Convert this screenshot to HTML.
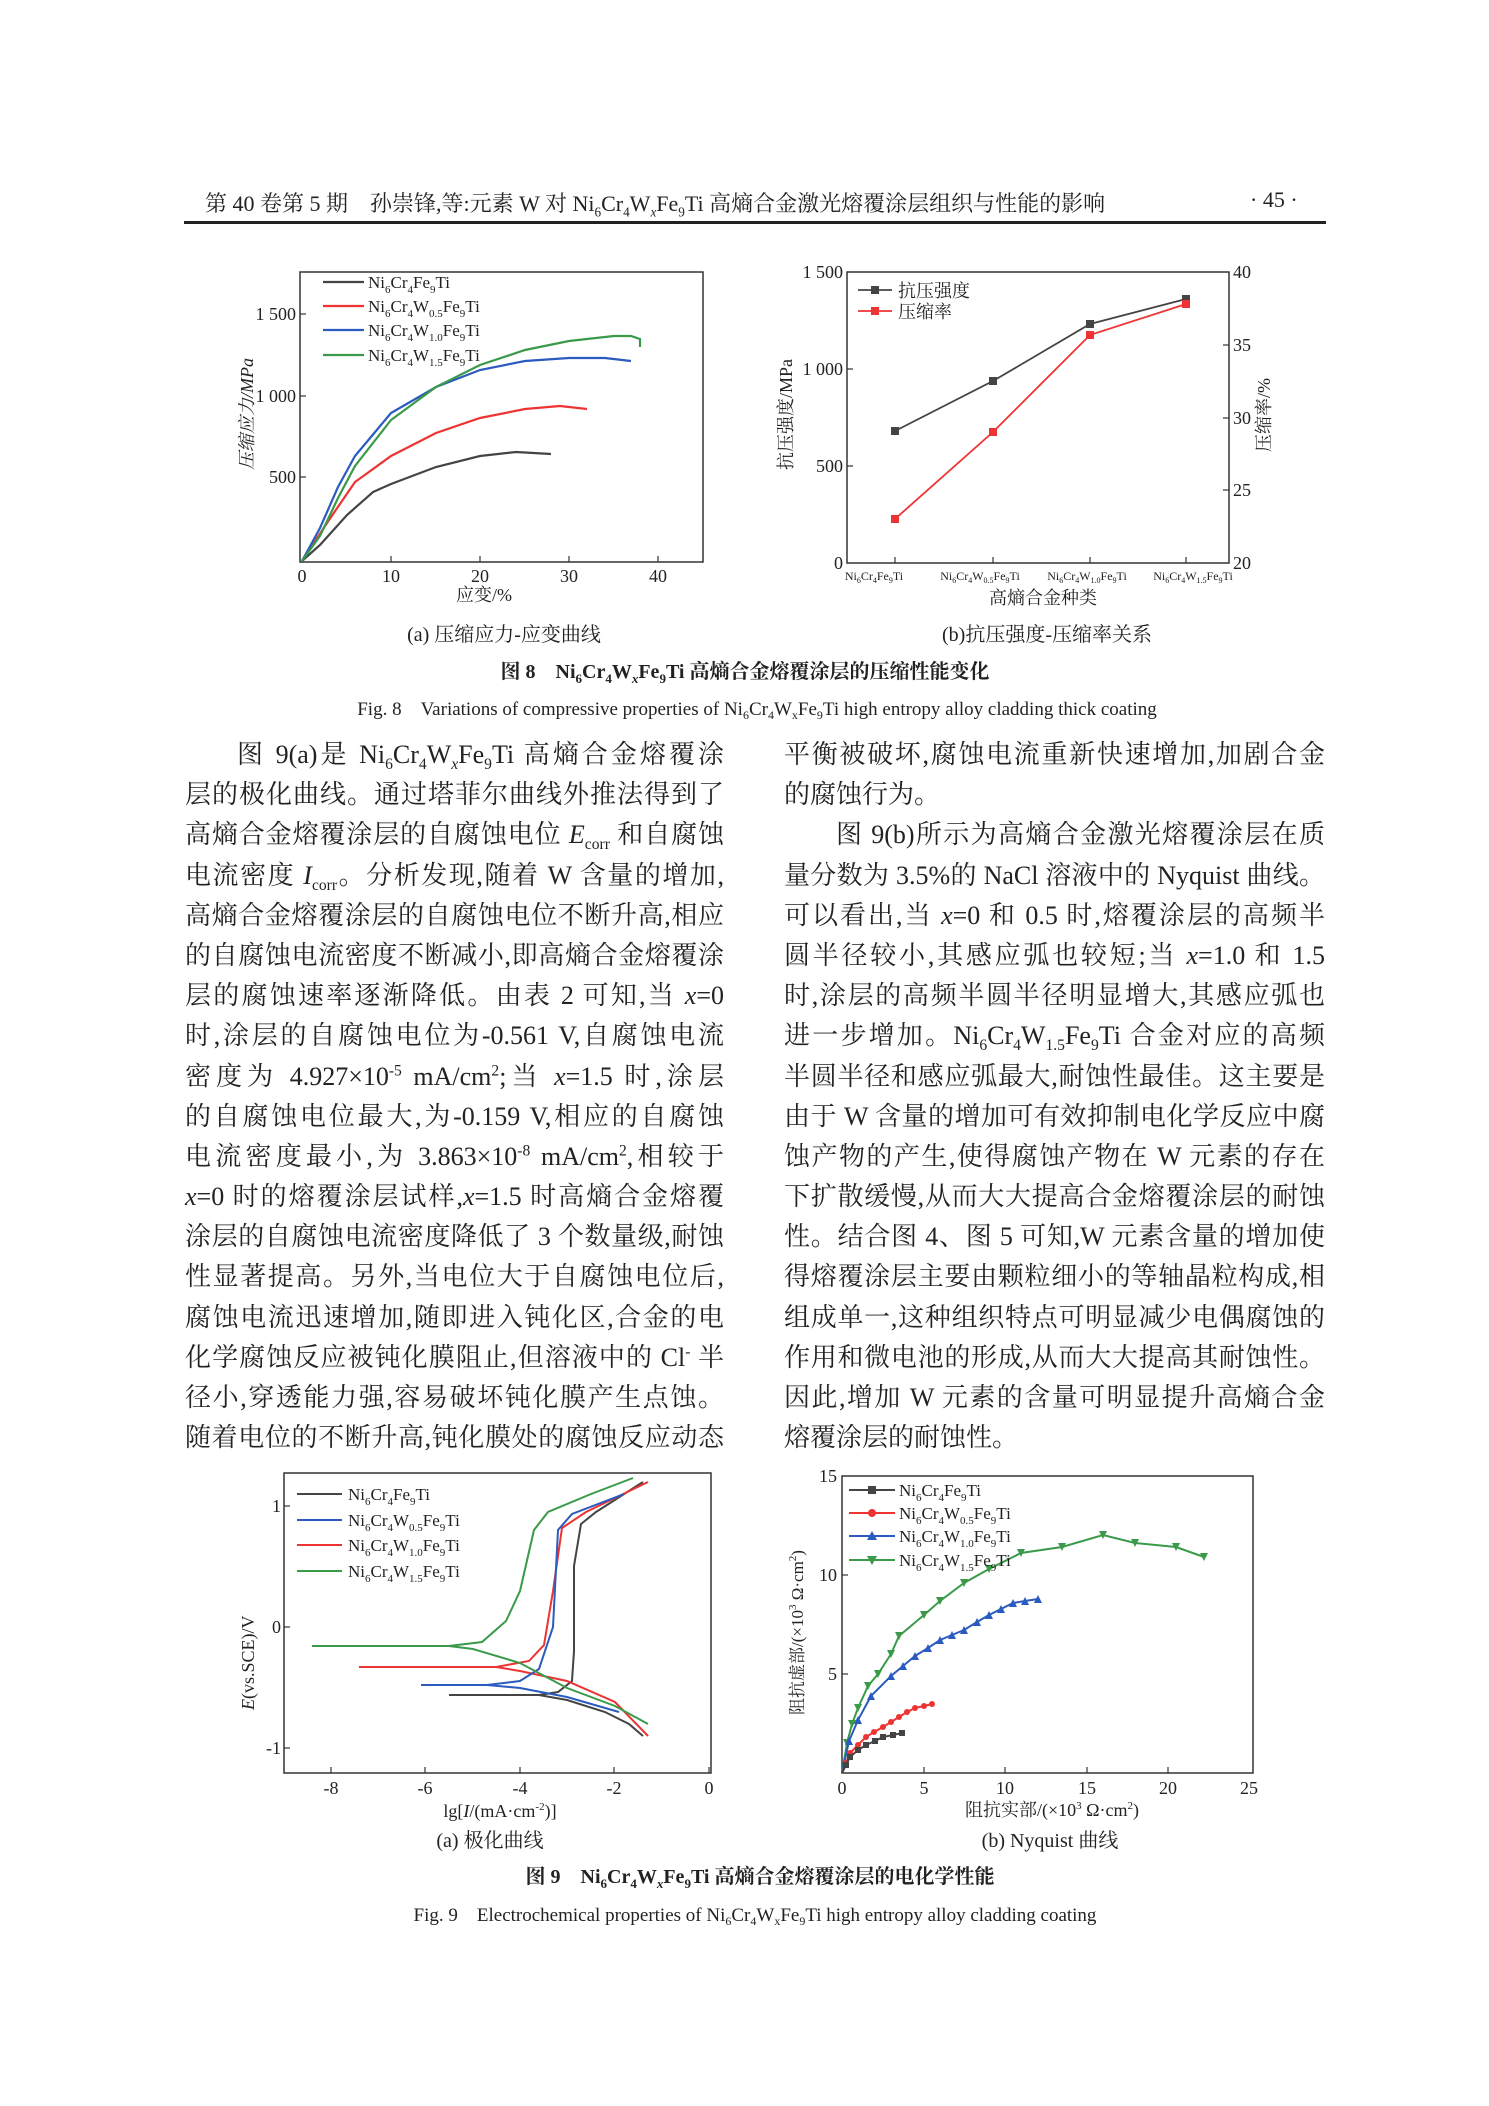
<!DOCTYPE html>
<html><head><meta charset="utf-8"><style>
body{margin:0;background:#fff;}
#pg{position:relative;width:1489px;height:2106px;overflow:hidden;background:#fff;font-family:"Liberation Serif","Noto Serif CJK SC",serif;color:#222;}
.col{position:absolute;top:735px;font-size:26px;line-height:40.2px;}
.col div{text-align:justify;text-align-last:justify;white-space:nowrap;height:40.2px}
.col div.l{text-align-last:left}
.col div.i{padding-left:52px}
sub,sup{font-size:60%;line-height:0}
.t{position:absolute;white-space:nowrap;font-size:21px}
</style></head><body><div id="pg">
<div class="t" style="left:205px;top:187px;font-size:22px">第 40 卷第 5 期　孙崇锋,等:元素 W 对 Ni<sub>6</sub>Cr<sub>4</sub>W<sub><i>x</i></sub>Fe<sub>9</sub>Ti 高熵合金激光熔覆涂层组织与性能的影响</div>
<div class="t" style="left:1250px;top:187px;font-size:22px">· 45 ·</div>
<div style="position:absolute;left:184px;top:221px;width:1142px;height:3px;background:#222"></div>

<div class="col" style="left:185px;width:539px">
<div class="i">图 9(a)是 Ni<sub>6</sub>Cr<sub>4</sub>W<sub><i>x</i></sub>Fe<sub>9</sub>Ti 高熵合金熔覆涂</div>
<div>层的极化曲线。通过塔菲尔曲线外推法得到了</div>
<div>高熵合金熔覆涂层的自腐蚀电位 <i>E</i><sub>corr</sub> 和自腐蚀</div>
<div>电流密度 <i>I</i><sub>corr</sub>。分析发现,随着 W 含量的增加,</div>
<div>高熵合金熔覆涂层的自腐蚀电位不断升高,相应</div>
<div>的自腐蚀电流密度不断减小,即高熵合金熔覆涂</div>
<div>层的腐蚀速率逐渐降低。由表 2 可知,当 <i>x</i>=0</div>
<div>时,涂层的自腐蚀电位为-0.561 V,自腐蚀电流</div>
<div>密度为 4.927×10<sup>-5</sup> mA/cm<sup>2</sup>;当 <i>x</i>=1.5 时,涂层</div>
<div>的自腐蚀电位最大,为-0.159 V,相应的自腐蚀</div>
<div>电流密度最小,为 3.863×10<sup>-8</sup> mA/cm<sup>2</sup>,相较于</div>
<div><i>x</i>=0 时的熔覆涂层试样,<i>x</i>=1.5 时高熵合金熔覆</div>
<div>涂层的自腐蚀电流密度降低了 3 个数量级,耐蚀</div>
<div>性显著提高。另外,当电位大于自腐蚀电位后,</div>
<div>腐蚀电流迅速增加,随即进入钝化区,合金的电</div>
<div>化学腐蚀反应被钝化膜阻止,但溶液中的 Cl<sup>-</sup> 半</div>
<div>径小,穿透能力强,容易破坏钝化膜产生点蚀。</div>
<div>随着电位的不断升高,钝化膜处的腐蚀反应动态</div>
</div>
<div class="col" style="left:784px;width:541px">
<div>平衡被破坏,腐蚀电流重新快速增加,加剧合金</div>
<div class="l">的腐蚀行为。</div>
<div class="i">图 9(b)所示为高熵合金激光熔覆涂层在质</div>
<div>量分数为 3.5%的 NaCl 溶液中的 Nyquist 曲线。</div>
<div>可以看出,当 <i>x</i>=0 和 0.5 时,熔覆涂层的高频半</div>
<div>圆半径较小,其感应弧也较短;当 <i>x</i>=1.0 和 1.5</div>
<div>时,涂层的高频半圆半径明显增大,其感应弧也</div>
<div>进一步增加。Ni<sub>6</sub>Cr<sub>4</sub>W<sub>1.5</sub>Fe<sub>9</sub>Ti 合金对应的高频</div>
<div>半圆半径和感应弧最大,耐蚀性最佳。这主要是</div>
<div>由于 W 含量的增加可有效抑制电化学反应中腐</div>
<div>蚀产物的产生,使得腐蚀产物在 W 元素的存在</div>
<div>下扩散缓慢,从而大大提高合金熔覆涂层的耐蚀</div>
<div>性。结合图 4、图 5 可知,W 元素含量的增加使</div>
<div>得熔覆涂层主要由颗粒细小的等轴晶粒构成,相</div>
<div>组成单一,这种组织特点可明显减少电偶腐蚀的</div>
<div>作用和微电池的形成,从而大大提高其耐蚀性。</div>
<div>因此,增加 W 元素的含量可明显提升高熵合金</div>
<div class="l">熔覆涂层的耐蚀性。</div>
</div>

<svg width="1489" height="2106" style="position:absolute;left:0;top:0" font-family="Liberation Serif, Noto Serif CJK SC, serif" fill="none">
<defs>
<marker id="ms" viewBox="0 0 6 6" refX="3" refY="3" markerWidth="6" markerHeight="6" markerUnits="userSpaceOnUse"><rect width="6" height="6" fill="#444"/></marker>
<marker id="mc" viewBox="0 0 6 6" refX="3" refY="3" markerWidth="6" markerHeight="6" markerUnits="userSpaceOnUse"><circle cx="3" cy="3" r="3" fill="#e33"/></marker>
<marker id="mt" viewBox="0 0 8 8" refX="4" refY="4" markerWidth="8" markerHeight="8" markerUnits="userSpaceOnUse"><path d="M4 0L8 8H0Z" fill="#2a5bbf"/></marker>
<marker id="mv" viewBox="0 0 8 8" refX="4" refY="4" markerWidth="8" markerHeight="8" markerUnits="userSpaceOnUse"><path d="M0 0H8L4 8Z" fill="#3a9a4a"/></marker>
<marker id="sq1" viewBox="0 0 8 8" refX="4" refY="4" markerWidth="8" markerHeight="8" markerUnits="userSpaceOnUse"><rect width="8" height="8" fill="#444"/></marker>
<marker id="sq2" viewBox="0 0 8 8" refX="4" refY="4" markerWidth="8" markerHeight="8" markerUnits="userSpaceOnUse"><rect width="8" height="8" fill="#e33"/></marker>
</defs>

<!-- Fig 8a -->
<rect x="300" y="272" width="403" height="290" stroke="#333" stroke-width="1.5"/>
<g stroke="#333" stroke-width="1.2">
<line x1="391" y1="562" x2="391" y2="556"/><line x1="480" y1="562" x2="480" y2="556"/><line x1="569" y1="562" x2="569" y2="556"/><line x1="658" y1="562" x2="658" y2="556"/>
<line x1="300" y1="477" x2="306" y2="477"/><line x1="300" y1="396" x2="306" y2="396"/><line x1="300" y1="314" x2="306" y2="314"/>
</g>
<g fill="#222" font-size="18" text-anchor="middle">
<text x="302" y="582">0</text><text x="391" y="582">10</text><text x="480" y="582">20</text><text x="569" y="582">30</text><text x="658" y="582">40</text>
<text x="484" y="601">应变/%</text>
</g>
<g fill="#222" font-size="18" text-anchor="end">
<text x="296" y="483">500</text><text x="296" y="402">1 000</text><text x="296" y="320">1 500</text>
</g>
<text x="0" y="0" transform="translate(253,470) rotate(-90)" fill="#222" font-size="18" font-style="italic">压缩应力/MPa</text>
<g stroke-width="2.2">
<polyline stroke="#444" points="302,561 320,545 347,515 373,492 391,484 436,467 480,456 516,452 551,454"/>
<polyline stroke="#e33" points="302,561 329,520 355,482 391,456 436,433 480,418 525,409 560,406 587,409"/>
<polyline stroke="#2a5bbf" points="302,561 320,528 338,487 355,456 391,413 436,387 480,370 525,361 569,358 605,358 631,361"/>
<polyline stroke="#3a9a4a" points="302,561 320,536 338,498 355,466 391,420 436,387 480,365 525,350 569,341 614,336 631,336 640,339 640,347"/>
<line x1="323" y1="282" x2="364" y2="282" stroke="#444"/>
<line x1="323" y1="306" x2="364" y2="306" stroke="#e33"/>
<line x1="323" y1="330" x2="364" y2="330" stroke="#2a5bbf"/>
<line x1="323" y1="355" x2="364" y2="355" stroke="#3a9a4a"/>
</g>
<g fill="#222" font-size="17">
<text x="368" y="288">Ni<tspan font-size="11" dy="5">6</tspan><tspan dy="-5">Cr</tspan><tspan font-size="11" dy="5">4</tspan><tspan dy="-5">Fe</tspan><tspan font-size="11" dy="5">9</tspan><tspan dy="-5">Ti</tspan></text>
<text x="368" y="312">Ni<tspan font-size="11" dy="5">6</tspan><tspan dy="-5">Cr</tspan><tspan font-size="11" dy="5">4</tspan><tspan dy="-5">W</tspan><tspan font-size="11" dy="5">0.5</tspan><tspan dy="-5">Fe</tspan><tspan font-size="11" dy="5">9</tspan><tspan dy="-5">Ti</tspan></text>
<text x="368" y="336">Ni<tspan font-size="11" dy="5">6</tspan><tspan dy="-5">Cr</tspan><tspan font-size="11" dy="5">4</tspan><tspan dy="-5">W</tspan><tspan font-size="11" dy="5">1.0</tspan><tspan dy="-5">Fe</tspan><tspan font-size="11" dy="5">9</tspan><tspan dy="-5">Ti</tspan></text>
<text x="368" y="361">Ni<tspan font-size="11" dy="5">6</tspan><tspan dy="-5">Cr</tspan><tspan font-size="11" dy="5">4</tspan><tspan dy="-5">W</tspan><tspan font-size="11" dy="5">1.5</tspan><tspan dy="-5">Fe</tspan><tspan font-size="11" dy="5">9</tspan><tspan dy="-5">Ti</tspan></text>
</g>

<!-- Fig 8b -->
<rect x="847" y="272" width="382" height="291" stroke="#333" stroke-width="1.5"/>
<g stroke="#333" stroke-width="1.2">
<line x1="895" y1="563" x2="895" y2="557"/><line x1="993" y1="563" x2="993" y2="557"/><line x1="1090" y1="563" x2="1090" y2="557"/><line x1="1186" y1="563" x2="1186" y2="557"/>
<line x1="847" y1="466" x2="853" y2="466"/><line x1="847" y1="369" x2="853" y2="369"/>
<line x1="1229" y1="490" x2="1223" y2="490"/><line x1="1229" y1="418" x2="1223" y2="418"/><line x1="1229" y1="345" x2="1223" y2="345"/>
</g>
<g fill="#222" font-size="18" text-anchor="end">
<text x="843" y="278">1 500</text><text x="843" y="375">1 000</text><text x="843" y="472">500</text><text x="843" y="569">0</text>
</g>
<g fill="#222" font-size="18">
<text x="1233" y="278">40</text><text x="1233" y="351">35</text><text x="1233" y="424">30</text><text x="1233" y="496">25</text><text x="1233" y="569">20</text>
</g>
<g fill="#222" font-size="12" text-anchor="middle">
<text x="874" y="580">Ni<tspan font-size="8" dy="3">6</tspan><tspan dy="-3">Cr</tspan><tspan font-size="8" dy="3">4</tspan><tspan dy="-3">Fe</tspan><tspan font-size="8" dy="3">9</tspan><tspan dy="-3">Ti</tspan></text>
<text x="980" y="580">Ni<tspan font-size="8" dy="3">6</tspan><tspan dy="-3">Cr</tspan><tspan font-size="8" dy="3">4</tspan><tspan dy="-3">W</tspan><tspan font-size="8" dy="3">0.5</tspan><tspan dy="-3">Fe</tspan><tspan font-size="8" dy="3">9</tspan><tspan dy="-3">Ti</tspan></text>
<text x="1087" y="580">Ni<tspan font-size="8" dy="3">6</tspan><tspan dy="-3">Cr</tspan><tspan font-size="8" dy="3">4</tspan><tspan dy="-3">W</tspan><tspan font-size="8" dy="3">1.0</tspan><tspan dy="-3">Fe</tspan><tspan font-size="8" dy="3">9</tspan><tspan dy="-3">Ti</tspan></text>
<text x="1193" y="580">Ni<tspan font-size="8" dy="3">6</tspan><tspan dy="-3">Cr</tspan><tspan font-size="8" dy="3">4</tspan><tspan dy="-3">W</tspan><tspan font-size="8" dy="3">1.5</tspan><tspan dy="-3">Fe</tspan><tspan font-size="8" dy="3">9</tspan><tspan dy="-3">Ti</tspan></text>
</g>
<text x="1043" y="604" fill="#222" font-size="18" text-anchor="middle">高熵合金种类</text>
<text transform="translate(792,470) rotate(-90)" fill="#222" font-size="18">抗压强度/MPa</text>
<text transform="translate(1270,452) rotate(-90)" fill="#222" font-size="18">压缩率/%</text>
<polyline stroke="#444" stroke-width="1.8" points="895,431 993,381 1090,324 1186,299" marker-start="url(#sq1)" marker-mid="url(#sq1)" marker-end="url(#sq1)"/>
<polyline stroke="#e33" stroke-width="1.8" points="895,519 993,432 1090,335 1186,304" marker-start="url(#sq2)" marker-mid="url(#sq2)" marker-end="url(#sq2)"/>
<line x1="858" y1="290" x2="892" y2="290" stroke="#444" stroke-width="1.8"/><rect x="871" y="286" width="8" height="8" fill="#444"/>
<line x1="858" y1="311" x2="892" y2="311" stroke="#e33" stroke-width="1.8"/><rect x="871" y="307" width="8" height="8" fill="#e33"/>
<text x="898" y="297" fill="#222" font-size="18">抗压强度</text>
<text x="898" y="318" fill="#222" font-size="18">压缩率</text>

<g fill="#222" font-size="20" text-anchor="middle">
<text x="504" y="641">(a) 压缩应力-应变曲线</text>
<text x="1047" y="641">(b)抗压强度-压缩率关系</text>
<text x="745" y="678" font-weight="bold">图 8　Ni<tspan font-size="13" dy="5">6</tspan><tspan dy="-5">Cr</tspan><tspan font-size="13" dy="5">4</tspan><tspan dy="-5">W</tspan><tspan font-size="13" dy="5" font-style="italic">x</tspan><tspan dy="-5">Fe</tspan><tspan font-size="13" dy="5">9</tspan><tspan dy="-5">Ti 高熵合金熔覆涂层的压缩性能变化</tspan></text>
<text x="757" y="715" font-size="19">Fig. 8　Variations of compressive properties of Ni<tspan font-size="12" dy="4">6</tspan><tspan dy="-4">Cr</tspan><tspan font-size="12" dy="4">4</tspan><tspan dy="-4">W</tspan><tspan font-size="12" dy="4">x</tspan><tspan dy="-4">Fe</tspan><tspan font-size="12" dy="4">9</tspan><tspan dy="-4">Ti high entropy alloy cladding thick coating</tspan></text>
</g>

<!-- Fig 9a -->
<rect x="284" y="1473" width="427" height="300" stroke="#333" stroke-width="1.5"/>
<g stroke="#333" stroke-width="1.2">
<line x1="331" y1="1773" x2="331" y2="1767"/><line x1="425" y1="1773" x2="425" y2="1767"/><line x1="520" y1="1773" x2="520" y2="1767"/><line x1="614" y1="1773" x2="614" y2="1767"/><line x1="709" y1="1773" x2="709" y2="1767"/>
<line x1="284" y1="1506" x2="290" y2="1506"/><line x1="284" y1="1627" x2="290" y2="1627"/><line x1="284" y1="1748" x2="290" y2="1748"/>
</g>
<g fill="#222" font-size="18" text-anchor="middle">
<text x="331" y="1794">-8</text><text x="425" y="1794">-6</text><text x="520" y="1794">-4</text><text x="614" y="1794">-2</text><text x="709" y="1794">0</text>
<text x="500" y="1817">lg[<tspan font-style="italic">I</tspan>/(mA·cm<tspan font-size="11" dy="-7">-2</tspan><tspan dy="7">)]</tspan></text>
</g>
<g fill="#222" font-size="18" text-anchor="end"><text x="281" y="1512">1</text><text x="281" y="1633">0</text><text x="281" y="1754">-1</text></g>
<text transform="translate(254,1710) rotate(-90)" fill="#222" font-size="18"><tspan font-style="italic">E</tspan>(vs.SCE)/V</text>
<g stroke-width="2">
<polyline stroke="#444" points="449,1695 539,1695 558,1692 572,1681 574,1651 574,1566 581,1524 596,1512 643,1482"/>
<polyline stroke="#444" points="539,1695 567,1700 605,1712 629,1724 643,1736"/>
<polyline stroke="#e33" points="359,1667 496,1667 529,1661 544,1645 553,1591 562,1528 586,1512 648,1482"/>
<polyline stroke="#e33" points="496,1667 520,1671 567,1681 615,1702 648,1736"/>
<polyline stroke="#2a5bbf" points="421,1685 487,1685 520,1681 539,1669 553,1627 558,1530 572,1514 624,1494"/>
<polyline stroke="#2a5bbf" points="487,1685 520,1688 567,1697 619,1712"/>
<polyline stroke="#3a9a4a" points="312,1646 449,1646 482,1642 506,1621 520,1591 534,1530 548,1512 591,1494 633,1478"/>
<polyline stroke="#3a9a4a" points="449,1646 473,1649 520,1663 567,1688 615,1706 648,1724"/>
<line x1="297" y1="1494" x2="342" y2="1494" stroke="#444"/>
<line x1="297" y1="1520" x2="342" y2="1520" stroke="#2a5bbf"/>
<line x1="297" y1="1545" x2="342" y2="1545" stroke="#e33"/>
<line x1="297" y1="1571" x2="342" y2="1571" stroke="#3a9a4a"/>
</g>
<g fill="#222" font-size="17">
<text x="348" y="1500">Ni<tspan font-size="11" dy="5">6</tspan><tspan dy="-5">Cr</tspan><tspan font-size="11" dy="5">4</tspan><tspan dy="-5">Fe</tspan><tspan font-size="11" dy="5">9</tspan><tspan dy="-5">Ti</tspan></text>
<text x="348" y="1526">Ni<tspan font-size="11" dy="5">6</tspan><tspan dy="-5">Cr</tspan><tspan font-size="11" dy="5">4</tspan><tspan dy="-5">W</tspan><tspan font-size="11" dy="5">0.5</tspan><tspan dy="-5">Fe</tspan><tspan font-size="11" dy="5">9</tspan><tspan dy="-5">Ti</tspan></text>
<text x="348" y="1551">Ni<tspan font-size="11" dy="5">6</tspan><tspan dy="-5">Cr</tspan><tspan font-size="11" dy="5">4</tspan><tspan dy="-5">W</tspan><tspan font-size="11" dy="5">1.0</tspan><tspan dy="-5">Fe</tspan><tspan font-size="11" dy="5">9</tspan><tspan dy="-5">Ti</tspan></text>
<text x="348" y="1577">Ni<tspan font-size="11" dy="5">6</tspan><tspan dy="-5">Cr</tspan><tspan font-size="11" dy="5">4</tspan><tspan dy="-5">W</tspan><tspan font-size="11" dy="5">1.5</tspan><tspan dy="-5">Fe</tspan><tspan font-size="11" dy="5">9</tspan><tspan dy="-5">Ti</tspan></text>
</g>

<!-- Fig 9b -->
<rect x="842" y="1476" width="411" height="297" stroke="#333" stroke-width="1.5"/>
<g stroke="#333" stroke-width="1.2">
<line x1="924" y1="1773" x2="924" y2="1767"/><line x1="1005" y1="1773" x2="1005" y2="1767"/><line x1="1087" y1="1773" x2="1087" y2="1767"/><line x1="1168" y1="1773" x2="1168" y2="1767"/>
<line x1="842" y1="1674" x2="848" y2="1674"/><line x1="842" y1="1575" x2="848" y2="1575"/>
</g>
<g fill="#222" font-size="18" text-anchor="middle">
<text x="842" y="1794">0</text><text x="924" y="1794">5</text><text x="1005" y="1794">10</text><text x="1087" y="1794">15</text><text x="1168" y="1794">20</text><text x="1249" y="1794">25</text>
<text x="1052" y="1816">阻抗实部/(×10<tspan font-size="11" dy="-7">3</tspan><tspan dy="7"> Ω·cm</tspan><tspan font-size="11" dy="-7">2</tspan><tspan dy="7">)</tspan></text>
</g>
<g fill="#222" font-size="18" text-anchor="end"><text x="837" y="1680">5</text><text x="837" y="1581">10</text><text x="837" y="1482">15</text></g>
<text transform="translate(803,1715) rotate(-90)" fill="#222" font-size="17">阻抗虚部/(×10<tspan font-size="11" dy="-7">3</tspan><tspan dy="7"> Ω·cm</tspan><tspan font-size="11" dy="-7">2</tspan><tspan dy="7">)</tspan></text>
<g stroke-width="2">
<polyline stroke="#3a9a4a" marker-mid="url(#mv)" marker-end="url(#mv)" points="842,1773 847,1743 852,1724 858,1708 868,1686 878,1674 891,1654 899,1636 924,1615 940,1601 964,1583 989,1569 1021,1553 1062,1547 1103,1535 1135,1543 1176,1547 1204,1557"/>
<polyline stroke="#2a5bbf" marker-mid="url(#mt)" marker-end="url(#mt)" points="842,1773 849,1741 858,1720 871,1696 891,1676 903,1666 915,1656 928,1648 940,1640 952,1635 964,1630 977,1622 989,1615 1001,1609 1013,1603 1025,1601 1038,1599"/>
<polyline stroke="#e33" marker-mid="url(#mc)" marker-end="url(#mc)" points="842,1773 846,1763 850,1753 858,1745 866,1737 874,1732 883,1727 891,1722 899,1717 907,1712 915,1708 924,1706 932,1704"/>
<polyline stroke="#444" marker-mid="url(#ms)" marker-end="url(#ms)" points="842,1773 846,1765 850,1757 858,1750 866,1745 875,1741 883,1737 893,1735 902,1733"/>
<line x1="849" y1="1490" x2="895" y2="1490" stroke="#444"/><rect x="868" y="1486" width="8" height="8" fill="#444"/>
<line x1="849" y1="1513" x2="895" y2="1513" stroke="#e33"/><circle cx="872" cy="1513" r="4" fill="#e33"/>
<line x1="849" y1="1536" x2="895" y2="1536" stroke="#2a5bbf"/><path d="M872 1531L877 1540H867Z" fill="#2a5bbf"/>
<line x1="849" y1="1560" x2="895" y2="1560" stroke="#3a9a4a"/><path d="M867 1556H877L872 1565Z" fill="#3a9a4a"/>
</g>
<g fill="#222" font-size="17">
<text x="899" y="1496">Ni<tspan font-size="11" dy="5">6</tspan><tspan dy="-5">Cr</tspan><tspan font-size="11" dy="5">4</tspan><tspan dy="-5">Fe</tspan><tspan font-size="11" dy="5">9</tspan><tspan dy="-5">Ti</tspan></text>
<text x="899" y="1519">Ni<tspan font-size="11" dy="5">6</tspan><tspan dy="-5">Cr</tspan><tspan font-size="11" dy="5">4</tspan><tspan dy="-5">W</tspan><tspan font-size="11" dy="5">0.5</tspan><tspan dy="-5">Fe</tspan><tspan font-size="11" dy="5">9</tspan><tspan dy="-5">Ti</tspan></text>
<text x="899" y="1542">Ni<tspan font-size="11" dy="5">6</tspan><tspan dy="-5">Cr</tspan><tspan font-size="11" dy="5">4</tspan><tspan dy="-5">W</tspan><tspan font-size="11" dy="5">1.0</tspan><tspan dy="-5">Fe</tspan><tspan font-size="11" dy="5">9</tspan><tspan dy="-5">Ti</tspan></text>
<text x="899" y="1566">Ni<tspan font-size="11" dy="5">6</tspan><tspan dy="-5">Cr</tspan><tspan font-size="11" dy="5">4</tspan><tspan dy="-5">W</tspan><tspan font-size="11" dy="5">1.5</tspan><tspan dy="-5">Fe</tspan><tspan font-size="11" dy="5">9</tspan><tspan dy="-5">Ti</tspan></text>
</g>

<g fill="#222" font-size="20" text-anchor="middle">
<text x="490" y="1847">(a) 极化曲线</text>
<text x="1050" y="1847">(b) Nyquist 曲线</text>
<text x="760" y="1883" font-weight="bold">图 9　Ni<tspan font-size="13" dy="5">6</tspan><tspan dy="-5">Cr</tspan><tspan font-size="13" dy="5">4</tspan><tspan dy="-5">W</tspan><tspan font-size="13" dy="5" font-style="italic">x</tspan><tspan dy="-5">Fe</tspan><tspan font-size="13" dy="5">9</tspan><tspan dy="-5">Ti 高熵合金熔覆涂层的电化学性能</tspan></text>
<text x="755" y="1921" font-size="19">Fig. 9　Electrochemical properties of Ni<tspan font-size="12" dy="4">6</tspan><tspan dy="-4">Cr</tspan><tspan font-size="12" dy="4">4</tspan><tspan dy="-4">W</tspan><tspan font-size="12" dy="4">x</tspan><tspan dy="-4">Fe</tspan><tspan font-size="12" dy="4">9</tspan><tspan dy="-4">Ti high entropy alloy cladding coating</tspan></text>
</g>
</svg>
</div></body></html>
